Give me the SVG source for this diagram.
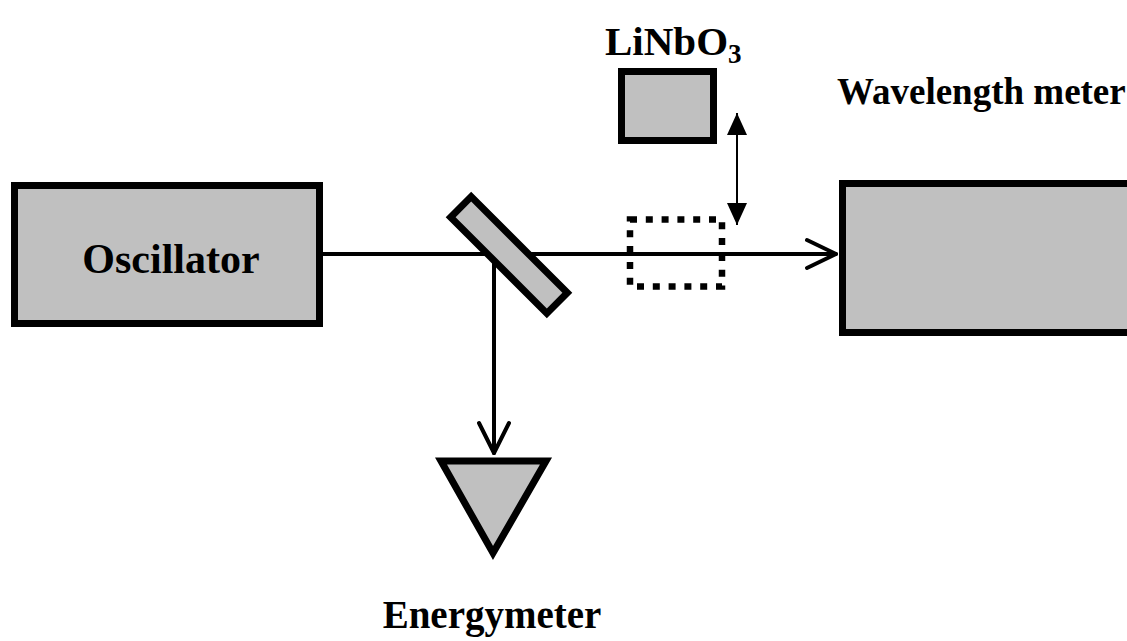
<svg xmlns="http://www.w3.org/2000/svg" width="1127" height="641" viewBox="0 0 1127 641">
<style>
.box{fill:#c0c0c0;stroke:#000;stroke-width:7}
.beam{fill:none;stroke:#000;stroke-width:4;stroke-linecap:round;stroke-linejoin:round}
.thin{fill:none;stroke:#000;stroke-width:2}
.dot{fill:none;stroke:#000;stroke-width:6.5;stroke-dasharray:7 8.8}
.lbl{font-family:"Liberation Serif","Times New Roman",serif;font-weight:bold;fill:#000}
</style>
<defs>
<marker id="tri" viewBox="0 0 22 20" refX="22" refY="10" markerWidth="22" markerHeight="20" markerUnits="userSpaceOnUse" orient="auto-start-reverse">
<path d="M0,0 L22,10 L0,20 Z" fill="#000"/>
</marker>
</defs>
<rect width="1127" height="641" fill="#fff"/>
<g id="connectors">
<line class="beam" x1="323" y1="254" x2="836" y2="254"/>
<polyline class="beam" points="807,240 836,254 807,268"/>
<line class="beam" x1="494" y1="258" x2="494" y2="453"/>
<polyline class="beam" points="479,423 494,453 509,423"/>
<line class="thin" x1="737" y1="113" x2="737" y2="225" marker-start="url(#tri)" marker-end="url(#tri)"/>
</g>
<g id="oscillator">
<rect class="box" x="14.5" y="185.5" width="305" height="138"/>
<text class="lbl" x="171" y="273" font-size="42" text-anchor="middle">Oscillator</text>
</g>
<g id="mirror">
<rect class="box" x="-68" y="-14.5" width="136" height="29" transform="translate(509 255) rotate(45)"/>
</g>
<g id="crystal-position">
<rect class="dot" x="630" y="219.5" width="92" height="67"/>
</g>
<g id="linbo3">
<rect class="box" x="621.5" y="71.5" width="92" height="69"/>
<text class="lbl" x="605" y="55" font-size="41">LiNbO<tspan font-size="27" dy="8">3</tspan></text>
</g>
<g id="wavelength-meter">
<rect class="box" x="842.5" y="183.5" width="300" height="149"/>
<text class="lbl" x="837" y="104" font-size="37">Wavelength meter</text>
</g>
<g id="energymeter">
<polygon class="box" stroke-width="8" points="441,461 546,461 493,553"/>
<text class="lbl" x="492" y="628" font-size="39" text-anchor="middle">Energymeter</text>
</g>
</svg>
